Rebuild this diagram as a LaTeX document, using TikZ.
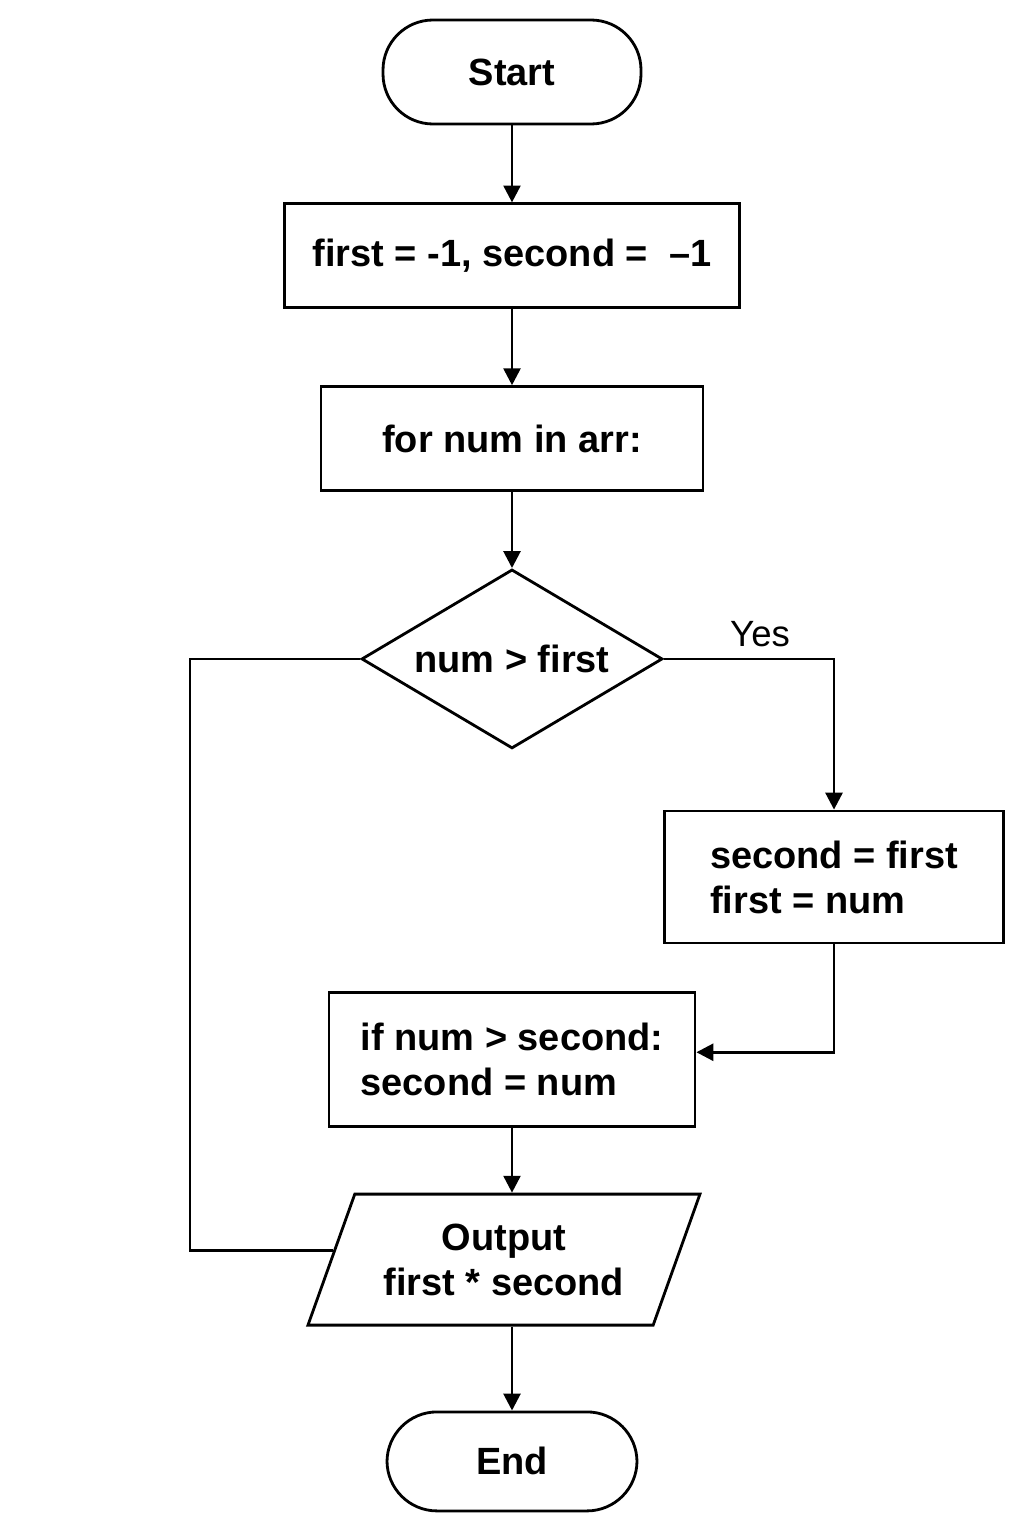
\documentclass[tikz,border=0pt]{standalone}
\usepackage{fontspec}
\setmainfont{Liberation Sans}
\usepackage{tikz}
\usetikzlibrary{arrows.meta,shapes,positioning,calc}
\tikzset{
block/.style={
  rectangle,
  draw,
  line width=2pt,
  align=center,
  font=\bfseries\fontsize{27}{32}\selectfont,
  minimum height=2.6cm},
terminal/.style={
  block,
  rounded corners=1.25cm},
decision/.style={
  diamond,
  draw,
  line width=2pt,
  inner sep=0pt,
  aspect=1.68,
  font=\bfseries\fontsize{27}{32}\selectfont,
  minimum width=7.525cm,
  minimum height=4.475cm},
io/.style={
  trapezium,
  draw,
  line width=2pt,
  align=center,
  inner ysep=0.55cm,
  trapezium left angle=68,
  trapezium right angle=112,
  trapezium stretches body=true,
  font=\bfseries\fontsize{27}{32}\selectfont,
  minimum width=9.8cm,
  minimum height=3.275cm},
line/.style={draw, line width=2pt, -{Triangle[length=12pt,width=12pt]}},
edge/.style={draw, line width=2pt}
}

\begin{document}
\begin{tikzpicture}
    \useasboundingbox (0,0) rectangle (25.6,-38.4);
    \node [terminal, minimum width=6.45cm] (start) at (12.8,-1.8) {Start};
    \node [block, below=1.925cm of start, minimum width=11.375cm] (init) {first = -1, second = \ –1};
    \node [block, below=1.9cm of init, minimum width=9.55cm] (loop) {for num in arr:};
    \node [decision, below=1.9cm of loop] (dec) {num > first};
    \node [block, align=left, minimum width=8.475cm, minimum height=3.3cm] (swap) at (20.85,-21.925) {second = first\\first = num};
    \node [block, align=left, below=6.025cm of dec, minimum width=9.15cm, minimum height=3.35cm] (cond) {if num > second:\\second = num};
    \node [io, below=1.625cm of cond, xshift=-0.2cm] (out) {Output\\first * second};
    \node [terminal, below=2.1cm of out, xshift=0.2cm, minimum width=6.25cm, minimum height=2.475cm] (stop) {End};
    \node [above right=0.3cm and 1.65cm of dec.east, inner sep=0pt, font=\fontsize{26}{30}\selectfont] (yes) {Yes};
    \coordinate (back) at (4.75,0);
    \coordinate (join) at ($(out.west)!0.14!(out.top left corner)$);
    \path [line] (start) -- (init);
    \path [line] (init) -- (loop);
    \path [line] (loop) -- (dec);
    \path [line] (dec.east) -| (swap.north);
    \path [line] (swap.south) |- ([yshift=0.175cm]cond.east);
    \path [line] (cond.south) -- (cond.south |- out.north);
    \path [line] (stop.north |- out.south) -- (stop.north);
    \path [edge] (dec.west) -| (back |- join) -- (join);
\end{tikzpicture}
\end{document}
